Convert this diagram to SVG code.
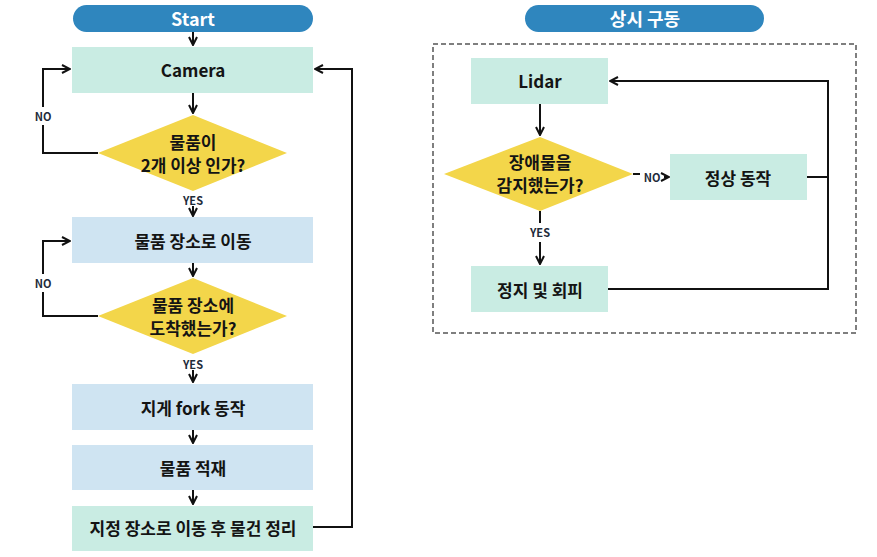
<svg xmlns="http://www.w3.org/2000/svg" width="877" height="557" viewBox="0 0 877 557">
<defs>
<style>
.pill{fill:#2F86BE}
.mint{fill:#C9ECE3}
.blue{fill:#CFE4F2}
.dia{fill:#F3D64A}
.t{font-family:"Noto Sans CJK KR","Noto Sans",sans-serif;font-weight:700;font-size:17px;fill:#141414;text-anchor:middle;dominant-baseline:central}
.tw{font-family:"Noto Sans CJK KR","Noto Sans",sans-serif;font-weight:700;font-size:18px;fill:#ffffff;text-anchor:middle;dominant-baseline:central}
.lb{font-family:"Noto Sans CJK KR","Noto Sans",sans-serif;font-weight:700;font-size:11px;fill:#1E2B3A;text-anchor:middle;dominant-baseline:central}
.c{fill:none;stroke:#111;stroke-width:2}
.bg{fill:#fff}
</style>
<marker id="ah" viewBox="0 0 10 10" refX="9" refY="5" markerWidth="5" markerHeight="5" orient="auto">
<path d="M1,1 L9,5 L1,9" fill="none" stroke="#111" stroke-width="2"/>
</marker>
</defs>
<rect width="877" height="557" fill="#fff"/>

<g id="connectors">
<path class="c" d="M193,32 V45" marker-end="url(#ah)"/>
<path class="c" d="M193,93 V113" marker-end="url(#ah)"/>
<path class="c" d="M98,153 H43 V69 H70" marker-end="url(#ah)"/>
<path class="c" d="M193,206 V216" marker-end="url(#ah)"/>
<path class="c" d="M193,263 V276" marker-end="url(#ah)"/>
<path class="c" d="M98,316 H43 V241 H70" marker-end="url(#ah)"/>
<path class="c" d="M193,370 V382" marker-end="url(#ah)"/>
<path class="c" d="M193,430 V443" marker-end="url(#ah)"/>
<path class="c" d="M193,490 V504" marker-end="url(#ah)"/>
<path class="c" d="M313,527 H352 V69 H315" marker-end="url(#ah)"/>
<rect x="433" y="44" width="423" height="289" fill="none" stroke="#555" stroke-width="1.5" stroke-dasharray="5,3"/>
<path class="c" d="M540,104 V135" marker-end="url(#ah)"/>
<path class="c" d="M633,174 H640"/>
<path class="c" d="M664,177 H669" marker-end="url(#ah)"/>
<path class="c" d="M540,211 V223"/>
<path class="c" d="M540,242 V264" marker-end="url(#ah)"/>
<path class="c" d="M807,177 H828"/>
<path class="c" d="M608,289 H828 V81 H610" marker-end="url(#ah)"/>
<rect class="bg" x="33" y="107" width="20" height="18"/>
<rect class="bg" x="33" y="274" width="20" height="18"/>
<text class="lb" x="43" y="116">NO</text>
<text class="lb" x="193" y="200">YES</text>
<text class="lb" x="43" y="283">NO</text>
<text class="lb" x="193" y="364">YES</text>
<text class="lb" x="652" y="177">NO</text>
<text class="lb" x="540" y="232">YES</text>
</g>

<g id="start"><rect class="pill" x="73" y="5" width="240" height="27" rx="13.5"/><text class="tw" x="193" y="18">Start</text></g>
<g id="camera"><rect class="mint" x="72" y="47" width="241" height="46"/><text class="t" x="193" y="69">Camera</text></g>
<g id="dec1"><polygon class="dia" points="193,115 287,153 193,191 98,153"/><text class="t" x="193" y="141">물품이</text><text class="t" x="193" y="164">2개 이상 인가?</text></g>
<g id="move"><rect class="blue" x="72" y="217" width="241" height="46"/><text class="t" x="193" y="240">물품 장소로 이동</text></g>
<g id="dec2"><polygon class="dia" points="193,278 287,316 193,354 98,316"/><text class="t" x="193" y="304">물품 장소에</text><text class="t" x="193" y="327">도착했는가?</text></g>
<g id="fork"><rect class="blue" x="72" y="384" width="241" height="46"/><text class="t" x="193" y="407">지게 fork 동작</text></g>
<g id="load"><rect class="blue" x="72" y="445" width="241" height="45"/><text class="t" x="193" y="467">물품 적재</text></g>
<g id="arrange"><rect class="mint" x="72" y="506" width="241" height="45"/><text class="t" x="193" y="527">지정 장소로 이동 후 물건 정리</text></g>

<g id="always"><rect class="pill" x="525" y="5" width="239" height="27" rx="13.5"/><text class="tw" x="645" y="18">상시 구동</text></g>
<g id="lidar"><rect class="mint" x="471" y="58" width="137" height="46"/><text class="t" x="540" y="80">Lidar</text></g>
<g id="dec3"><polygon class="dia" points="540,137 633,174 540,211 444,174"/><text class="t" x="540" y="161">장애물을</text><text class="t" x="540" y="184">감지했는가?</text></g>
<g id="normal"><rect class="mint" x="670" y="154" width="137" height="46"/><text class="t" x="738" y="177">정상 동작</text></g>
<g id="stop"><rect class="mint" x="471" y="266" width="137" height="46"/><text class="t" x="540" y="289">정지 및 회피</text></g>
</svg>
